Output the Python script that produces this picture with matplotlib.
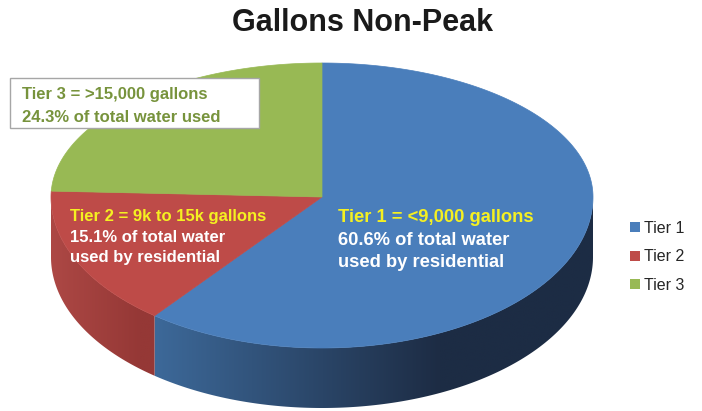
import matplotlib.pyplot as plt
import numpy as np
from matplotlib.patches import Polygon, Rectangle
from matplotlib.colors import to_rgb

plt.rcParams['font.family'] = ['Liberation Sans', 'DejaVu Sans']

# data
tiers = ['Tier 1', 'Tier 2', 'Tier 3']
shares = [60.6, 15.1, 24.3]
ranges = ['<9,000 gallons', '9k to 15k gallons', '>15,000 gallons']

top_colors = ['#4a7ebb', '#be4b48', '#98b954']
# side shading: (light colour, x where it starts, dark colour, x where it ends)
side_shade = [('#3f6d9f', 135, '#1d2c44', 440),
              ('#ad4845', 50, '#953836', 140),
              ('#86a64c', 50, '#5c7434', 320)]

# pie geometry in pixels
cx, cy = 322, 197
rx, ry_up, ry_down = 271, 134, 151
depth = 60


def pt(a):
    a = np.asarray(a)
    s = np.sin(a)
    ry = np.where(s > 0, ry_up, ry_down)
    return cx + rx * np.cos(a), cy - ry * s


fig = plt.figure(figsize=(7.02, 4.11), dpi=100)
ax = fig.add_axes([0, 0, 1, 1])

# slice angles, clockwise from 12 o'clock
fr = np.array(shares) / sum(shares)
starts = np.pi / 2 - 2 * np.pi * np.concatenate([[0], np.cumsum(fr)[:-1]])
ends = starts - 2 * np.pi * fr

# side walls (front half only), horizontal gradient clipped to the wall
gx = np.linspace(cx - rx, cx + rx, 512)
for i in range(3):
    lo, hi = max(ends[i], -np.pi), min(starts[i], 0)
    if lo >= hi:
        continue
    t = np.linspace(lo, hi, 300)
    xs, ys = pt(t)
    verts = list(zip(xs, ys)) + list(zip(xs[::-1], ys[::-1] + depth))
    wall = Polygon(verts, closed=True, facecolor='none', edgecolor='none')
    ax.add_patch(wall)
    c0, x0, c1, x1 = side_shade[i]
    f = np.clip((gx - x0) / (x1 - x0), 0, 1)
    c0, c1 = np.array(to_rgb(c0)), np.array(to_rgb(c1))
    grad = (c0 + (c1 - c0) * f[:, None])[None, :, :]
    im = ax.imshow(grad, extent=(cx - rx, cx + rx, cy + ry_down + depth + 2, cy - 5),
                   aspect='auto', interpolation='bilinear', zorder=1)
    im.set_clip_path(wall)

# top faces
for i in range(3):
    t = np.linspace(starts[i], ends[i], 300)
    xs, ys = pt(t)
    verts = [(cx, cy)] + list(zip(xs, ys))
    ax.add_patch(Polygon(verts, closed=True, facecolor=top_colors[i],
                         edgecolor=top_colors[i], lw=0.5, zorder=2))
ax.set_xlim(0, 702)
ax.set_ylim(411, 0)
ax.axis('off')

# title
fig.text(0.517, 0.945, 'Gallons Non-Peak', ha='center', va='center',
         fontsize=22, fontweight='bold', color='#1a1a1a')

# labels
yellow = '#f5f021'
t1 = [f'{tiers[0]} = {ranges[0]}', f'{shares[0]}% of total water', 'used by residential']
for k, (s, y) in enumerate(zip(t1, [217, 240, 262])):
    ax.text(338, y, s, color=yellow if k == 0 else 'white', fontsize=13.2,
            fontweight='bold', va='center', zorder=5)

t2 = [f'{tiers[1]} = {ranges[1]}', f'{shares[1]}% of total water', 'used by residential']
for k, (s, y) in enumerate(zip(t2, [216, 237, 257])):
    ax.text(70, y, s, color=yellow if k == 0 else 'white', fontsize=12,
            fontweight='bold', va='center', zorder=5)

ax.add_patch(Rectangle((10, 78), 249, 50, facecolor='white', edgecolor='#a6a6a6',
                       lw=1, zorder=4))
green = '#77933c'
t3 = [f'{tiers[2]} = {ranges[2]}', f'{shares[2]}% of total water used']
for s, y in zip(t3, [95, 117]):
    ax.text(22, y, s, color=green, fontsize=12, fontweight='bold', va='center', zorder=5)

# legend
handles = [Rectangle((0, 0), 1, 1, facecolor=c) for c in top_colors]
fig.legend(handles, tiers, loc='center left', bbox_to_anchor=(0.877, 0.375),
           frameon=False, fontsize=11.5, handlelength=0.6, handleheight=0.6,
           handletextpad=0.3, labelspacing=0.85, labelcolor='#262626')

fig.savefig('out.png', dpi=100)
